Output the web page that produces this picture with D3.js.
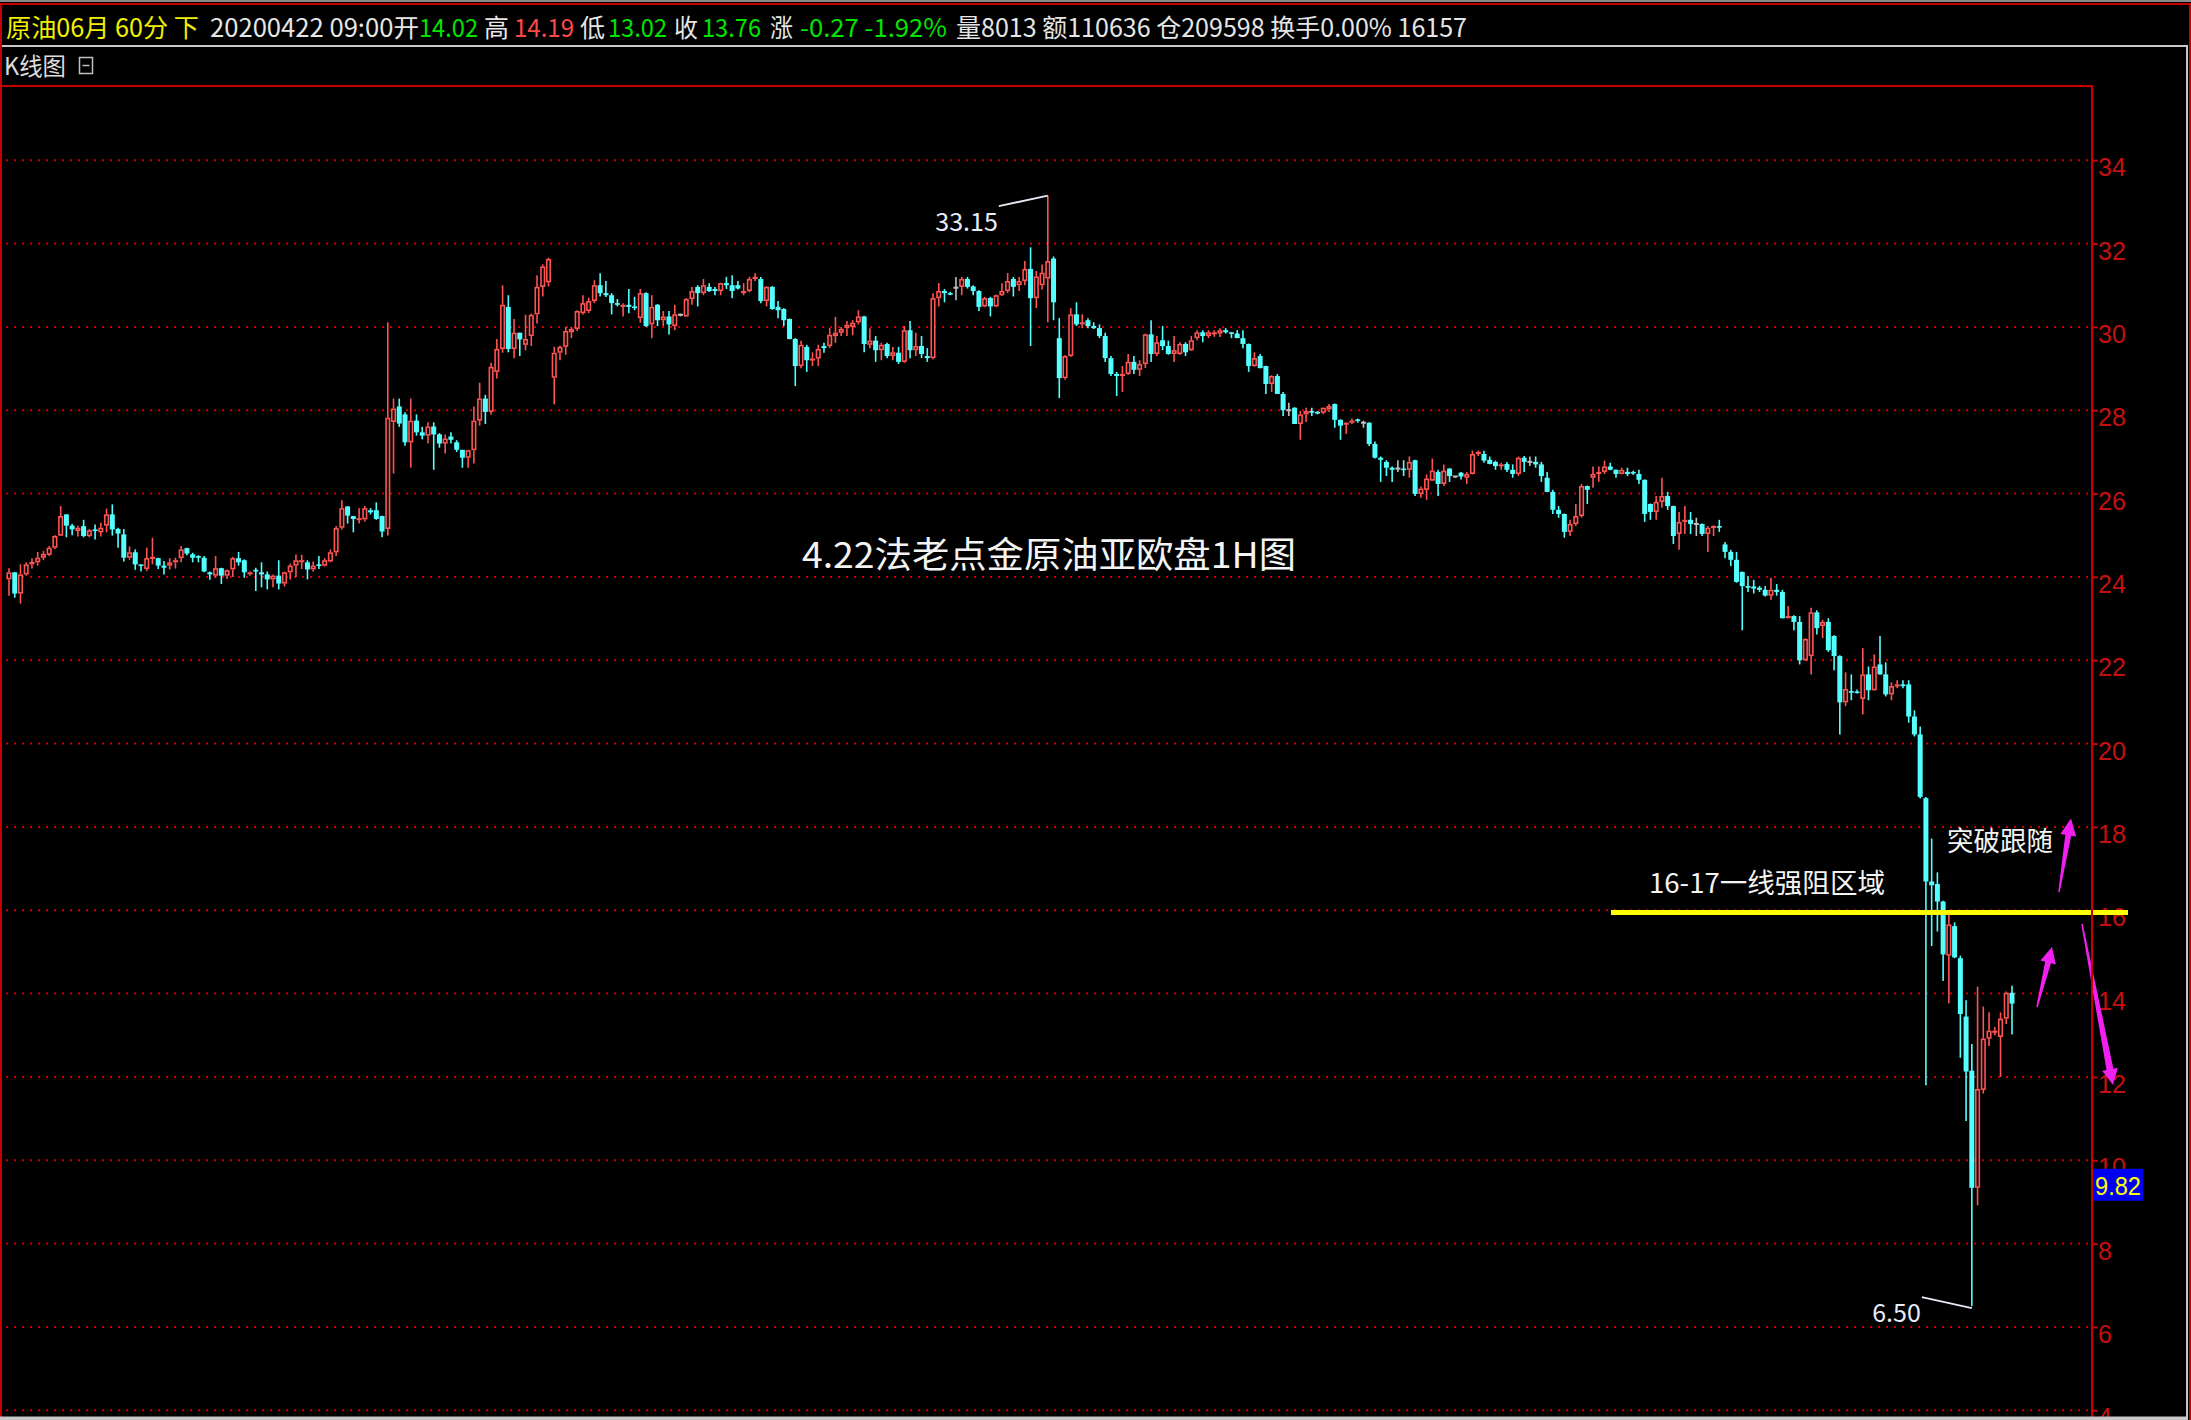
<!DOCTYPE html>
<html><head><meta charset="utf-8">
<script src="https://cdn.jsdelivr.net/npm/d3@7"></script>
<style>html,body{margin:0;padding:0;background:#000;overflow:hidden}</style>
</head><body>
<svg id="c" width="2191" height="1420" xmlns="http://www.w3.org/2000/svg"></svg>
<script>
// ---------------- DATA (60-minute candles) ----------------
const opens = [
23.94,24.11,23.6,24.06,24.3,24.35,24.46,24.53,24.7,24.99,
25.5,25.23,25.1,25.22,24.98,25.14,25.07,25.23,25.5,25.15,
25.02,24.46,24.59,24.3,24.19,24.45,24.45,24.27,24.27,24.35,
24.45,24.69,24.54,24.5,24.46,24.11,24.03,24.21,24.03,24.18,
24.45,24.4,24.06,24.17,24.11,24.06,23.94,24.03,23.84,24.11,
24.27,24.35,24.35,24.18,24.3,24.27,24.37,24.59,25.18,25.69,
25.46,25.38,25.38,25.6,25.6,25.46,25.15,
27.72,28.09,27.9,27.23,27.75,27.47,27.39,27.61,27.42,27.2,
27.37,27.23,27.05,26.86,27.04,27.75,28.28,27.96,28.92,29.47,
30.48,29.47,29.86,29.57,29.78,30.3,30.96,31.07,28.78,29.38,
29.52,29.87,29.95,30.33,30.38,30.62,31.0,30.81,30.76,30.57,
30.48,30.53,30.49,30.21,30.81,30.06,30.53,30.16,30.25,30.02,
30.29,30.25,30.67,30.96,30.81,30.96,30.91,30.86,31.05,31.0,
31.0,30.81,30.86,31.15,31.15,30.62,30.96,30.48,30.43,30.19,
29.71,29.06,29.52,29.2,29.24,29.54,29.54,29.78,29.86,
29.97,30.0,30.11,30.25,29.57,29.67,29.44,29.59,29.3,29.38,
29.16,29.92,29.44,29.54,29.3,29.25,30.69,30.86,30.81,30.94,
30.96,31.15,30.97,30.86,30.49,30.69,30.49,30.76,30.86,31.15,
31.0,31.1,31.39,30.69,31.0,31.16,31.64,29.73,28.77,29.3,
30.3,30.06,30.16,30.02,29.97,29.78,29.25,28.87,28.82,28.87,
29.16,28.97,29.11,29.82,29.35,29.68,29.54,29.35,29.35,29.59,
29.44,29.73,29.87,29.78,29.84,29.84,29.92,29.87,29.84,29.73,
29.59,29.06,29.3,29.06,28.63,28.82,28.39,28.0,28.06,27.67,
27.9,27.98,27.96,27.94,28.02,28.15,27.77,
27.66,27.7,27.78,27.7,27.7,27.19,26.86,26.76,26.62,26.6,
26.6,26.57,26.8,25.99,26.09,26.31,26.52,26.23,26.6,26.41,
26.5,26.38,26.47,26.95,26.95,26.81,26.76,26.66,26.71,26.57,
26.47,26.86,26.76,26.76,26.7,26.38,26.04,25.61,25.51,25.08,
25.27,25.46,26.18,26.38,26.47,26.52,26.65,26.57,26.47,26.52,
26.52,26.47,26.33,25.75,25.56,25.8,25.94,25.7,25.03,25.32,
25.37,25.27,25.27,25.03,25.18,25.22,
24.78,24.6,24.41,24.12,23.78,23.77,23.74,23.69,23.55,23.69,
23.64,23.01,23.06,22.92,22.0,22.1,23.15,22.82,22.92,22.58,
22.1,20.99,21.26,21.25,21.07,21.66,21.28,21.9,21.66,21.18,
21.38,21.42,21.42,20.65,20.22,
18.69,16.69,16.63,16.21,14.91,15.62,14.85,13.45,12.15,9.34,11.69,12.92,13.09,12.96,13.4,14.02
];
const highs = [
24.21,24.11,24.3,24.35,24.45,24.6,24.62,24.74,25.0,25.7,
25.5,25.27,25.23,25.37,25.15,25.26,25.3,25.64,25.74,25.18,
25.15,24.73,24.66,24.3,24.7,24.94,24.46,24.38,24.45,24.46,
24.74,24.7,24.58,24.52,24.5,24.13,24.5,24.22,24.18,24.48,
24.6,24.42,24.13,24.22,24.35,24.13,24.06,24.4,24.13,24.32,
24.54,24.53,24.4,24.37,24.5,24.45,24.66,25.22,25.84,25.7,
25.46,25.65,25.7,25.65,25.79,25.47,30.11,
28.28,28.28,27.95,28.28,27.9,27.6,27.71,27.71,27.45,27.42,
27.47,27.28,27.05,27.05,28.09,28.66,28.37,29.14,29.71,31.0,
30.76,30.19,29.86,30.29,30.32,31.24,31.5,31.66,29.52,29.55,
30.0,30.0,30.4,30.76,30.7,31.12,31.29,31.1,30.81,30.67,
30.57,30.91,30.72,30.91,30.83,30.76,30.55,30.38,30.38,30.53,
30.32,30.69,30.96,31.0,31.15,31.05,30.96,31.06,31.2,31.24,
31.1,31.05,31.2,31.29,31.2,30.98,30.98,30.62,30.45,30.2,
29.73,29.67,29.57,29.39,29.57,29.62,29.97,30.24,30.0,
30.14,30.16,30.4,30.27,29.97,29.78,29.62,29.62,29.52,29.52,
30.02,30.14,29.86,29.78,29.49,30.81,31.05,30.91,30.84,31.2,
31.2,31.2,31.0,30.88,30.72,30.72,30.78,31.05,31.29,31.2,
31.2,31.58,31.91,31.34,31.5,33.15,31.69,30.21,29.32,30.45,
30.59,30.3,30.21,30.11,30.06,29.86,29.3,28.92,29.06,29.35,
29.3,29.2,29.84,30.16,29.78,30.02,29.67,29.78,29.63,29.63,
29.78,29.92,29.92,29.92,29.92,29.97,29.97,29.88,29.92,29.92,
29.6,29.39,29.35,29.07,28.84,28.87,28.44,28.18,28.07,27.98,
28.06,28.06,27.98,28.06,28.15,28.16,27.78,
27.71,27.8,27.8,27.75,27.71,27.25,26.89,26.8,26.65,26.8,
26.8,26.89,26.81,26.17,26.46,26.84,26.57,26.7,26.61,26.42,
26.52,26.52,27.03,27.03,27.03,26.89,26.79,26.74,26.76,26.7,
26.89,26.9,26.89,26.89,26.76,26.52,26.09,25.7,25.52,25.37,
25.75,26.23,26.19,26.65,26.65,26.79,26.74,26.58,26.62,26.62,
26.55,26.57,26.34,25.76,25.94,26.38,26.04,25.71,25.56,25.7,
25.56,25.42,25.28,25.22,25.24,25.37,
24.84,24.65,24.6,24.13,24.02,23.93,23.78,23.78,23.98,23.83,
23.69,23.3,23.08,23.06,22.53,23.26,23.2,22.97,23.01,22.6,
22.12,21.71,21.66,21.3,22.29,21.85,22.14,22.58,21.95,21.47,
21.52,21.52,21.52,20.8,20.41,
18.72,17.72,16.91,16.23,16.0,15.71,14.91,13.84,12.79,14.17,13.69,13.55,13.2,13.55,14.05,14.19
];
const lows = [
23.55,23.5,23.36,24.03,24.2,24.27,24.4,24.5,24.67,24.98,
24.95,25.0,24.97,24.95,24.95,24.9,24.97,25.07,24.99,24.7,
24.37,24.41,24.17,24.13,24.14,24.3,24.19,24.06,24.18,24.2,
24.35,24.52,24.35,24.35,24.11,23.93,23.98,23.83,23.95,24.0,
24.27,23.98,24.03,23.66,23.75,23.7,23.75,23.7,23.77,23.94,
24.0,24.19,23.94,24.13,24.19,24.25,24.35,24.5,25.14,25.28,
25.07,25.28,25.33,25.5,25.37,24.95,24.99,
26.48,27.6,27.15,26.62,27.39,27.3,27.2,26.57,27.1,26.96,
27.2,27.0,26.62,26.62,26.72,27.63,27.67,27.9,28.76,29.38,
29.39,29.25,29.3,29.44,29.54,30.08,30.73,30.97,28.14,29.2,
29.33,29.73,29.9,30.29,30.33,30.57,30.73,30.72,30.3,30.49,
30.25,30.33,30.4,30.1,30.0,29.73,30.02,30.02,29.82,29.92,
30.25,30.24,30.53,30.49,30.76,30.84,30.76,30.76,30.91,30.69,
30.9,30.76,30.83,31.1,30.57,30.49,30.41,30.21,30.02,29.7,
28.58,29.01,28.92,29.06,29.06,29.38,29.49,29.62,29.78,
29.78,29.8,30.06,29.39,29.49,29.16,29.2,29.25,29.2,29.11,
29.14,29.25,29.3,29.25,29.16,29.22,30.49,30.59,30.76,30.64,
30.76,30.92,30.76,30.38,30.47,30.25,30.47,30.74,30.81,30.73,
30.86,31.0,29.54,30.45,30.9,30.11,30.16,28.29,28.73,29.28,
30.02,29.97,29.97,29.95,29.73,29.16,28.82,28.34,28.44,28.85,
28.87,28.82,29.01,29.16,29.3,29.44,29.33,29.16,29.33,29.3,
29.42,29.68,29.63,29.73,29.76,29.76,29.84,29.73,29.73,29.49,
28.92,29.04,29.01,28.39,28.44,28.39,27.86,27.86,27.67,27.29,
27.72,27.86,27.9,27.9,27.96,27.58,27.29,
27.43,27.67,27.7,27.58,27.14,26.84,26.28,26.42,26.28,26.52,
26.42,26.38,25.94,25.9,25.85,26.3,25.94,26.18,26.28,26.38,
26.34,26.23,26.46,26.9,26.74,26.7,26.57,26.57,26.52,26.38,
26.42,26.52,26.66,26.62,26.28,26.03,25.51,25.42,24.94,24.98,
25.22,25.42,25.75,26.14,26.28,26.47,26.56,26.38,26.46,26.42,
26.45,26.23,25.32,25.37,25.37,25.66,25.61,24.79,24.65,25.03,
25.03,24.98,24.98,24.6,24.98,25.08,
24.45,24.26,23.86,22.72,23.64,23.6,23.64,23.53,23.45,23.55,
23.0,23.0,22.72,21.9,21.98,21.66,22.62,22.53,22.2,21.76,
20.22,20.9,21.04,21.2,20.7,21.04,21.27,21.65,21.13,21.04,
21.33,21.33,20.5,20.17,18.68,
11.8,15.14,15.49,14.3,13.77,14.85,12.46,10.94,6.5,8.92,11.6,12.74,13.0,12.0,13.27,13.02
];
const closes = [
24.11,23.6,24.06,24.3,24.36,24.46,24.55,24.7,24.98,25.46,
25.23,25.14,25.18,24.98,25.12,25.1,25.18,25.5,25.14,25.04,
24.46,24.59,24.3,24.27,24.45,24.48,24.27,24.22,24.35,24.4,
24.66,24.56,24.46,24.46,24.13,24.06,24.21,24.03,24.16,24.45,
24.35,24.11,24.11,24.13,24.06,23.94,24.03,23.84,24.11,24.27,
24.4,24.4,24.18,24.27,24.27,24.4,24.59,25.17,25.65,25.47,
25.39,25.41,25.65,25.55,25.39,25.09,27.82,
28.04,27.68,27.23,27.75,27.47,27.39,27.61,27.42,27.2,27.32,
27.29,27.05,26.86,27.04,27.75,28.28,27.96,29.04,29.47,30.53,
29.47,29.86,29.7,29.71,30.29,30.96,31.45,31.63,29.38,29.52,
29.9,29.95,30.38,30.57,30.62,31.0,30.81,30.76,30.57,30.53,
30.53,30.48,30.45,30.81,30.02,30.48,30.16,30.25,30.06,30.3,
30.29,30.67,30.86,30.81,31.0,30.86,30.86,31.05,31.0,30.86,
30.92,30.86,31.15,31.2,30.62,30.96,30.43,30.4,30.16,29.71,
29.06,29.57,29.2,29.24,29.47,29.49,29.81,29.86,29.95,
30.05,30.1,30.25,29.59,29.67,29.44,29.57,29.3,29.39,29.16,
29.92,29.44,29.54,29.35,29.25,30.69,30.86,30.81,30.78,30.94,
31.15,30.96,30.86,30.48,30.69,30.49,30.76,30.86,31.1,30.96,
31.1,31.39,30.69,31.21,31.3,31.58,30.59,28.77,29.3,30.3,
30.06,30.11,30.02,29.97,29.78,29.25,28.87,28.82,28.87,29.16,
28.97,29.11,29.82,29.35,29.63,29.54,29.35,29.44,29.59,29.39,
29.68,29.87,29.78,29.87,29.87,29.92,29.87,29.84,29.73,29.59,
29.06,29.25,29.01,28.63,28.82,28.39,28.0,28.0,27.67,27.9,
27.98,27.94,27.92,28.06,28.1,27.77,27.63,
27.7,27.75,27.74,27.7,27.19,26.86,26.81,26.62,26.57,26.6,
26.57,26.76,25.99,26.12,26.36,26.55,26.23,26.55,26.42,26.41,
26.41,26.47,26.95,27.0,26.79,26.71,26.66,26.7,26.57,26.47,
26.86,26.76,26.76,26.7,26.42,26.04,25.61,25.51,25.08,25.27,
25.46,26.18,26.09,26.47,26.52,26.65,26.57,26.47,26.57,26.47,
26.48,26.33,25.51,25.56,25.8,25.94,25.7,24.98,25.32,25.37,
25.27,25.27,25.03,25.18,25.22,25.18,
24.6,24.41,23.88,23.78,23.74,23.72,23.69,23.55,23.69,23.64,
23.01,23.06,22.92,22.0,22.51,23.15,22.77,22.92,22.24,22.1,
20.99,21.31,21.23,21.22,21.66,21.28,21.85,21.66,21.18,21.38,
21.42,21.38,20.65,20.22,18.72,
16.69,16.6,16.21,14.94,15.66,14.87,13.51,12.13,9.34,11.71,12.92,13.11,13.11,13.4,14.02,13.76
];
const priceTicks = [4,6,8,10,12,14,16,18,20,22,24,26,28,30,32,34];
const highLabel = 33.15;
const lowLabel = 6.50;
const lastPriceTag = 9.82;
const resistanceLevel = 16;
const titleText = "4.22法老点金原油亚欧盘1H图";
const zoneText = "16-17一线强阻区域";
const followText = "突破跟随";

// ---------------- CHART ----------------
const W = 2191, H = 1420;
const svg = d3.select("#c");
svg.append("rect").attr("width", W).attr("height", H).attr("fill", "#000");

const n = opens.length;
const x = d3.scalePoint().domain(d3.range(n)).range([9, 2012]);
const y = d3.scaleLinear().domain([4, 34]).range([1410.3, 160.2]);

const CJK = "'Noto Sans CJK SC','Noto Sans',sans-serif";
const LAT = "'Liberation Sans',Arial,sans-serif";

// grid
svg.append("g").selectAll("line").data(priceTicks).join("line")
  .attr("x1", 6).attr("x2", 2092)
  .attr("y1", d => y(d)).attr("y2", d => y(d))
  .attr("stroke", "#c80000").attr("stroke-width", 2).attr("stroke-dasharray", "2,6");

// candles
const candles = d3.range(n).map(i => ({ i, o: opens[i], h: highs[i], l: lows[i], c: closes[i] }));
const UP = "#ff5454", DN = "#54ffff", EQ = "#c0c0c0";
const bw = 5;
const cg = svg.append("g");
candles.forEach(d => {
  const cx = x(d.i);
  const col = d.c > d.o ? UP : (d.c < d.o ? DN : EQ);
  if (d.c > d.o) {
    cg.append("line").attr("x1", cx).attr("x2", cx).attr("y1", y(d.h)).attr("y2", y(d.c))
      .attr("stroke", col).attr("stroke-width", 1.6);
    cg.append("line").attr("x1", cx).attr("x2", cx).attr("y1", y(d.o)).attr("y2", y(d.l))
      .attr("stroke", col).attr("stroke-width", 1.6);
    const top = y(d.c), bot = y(d.o);
    cg.append("rect").attr("x", cx - bw / 2 + 0.75).attr("y", top + 0.75)
      .attr("width", bw - 1.5).attr("height", Math.max(bot - top - 1.5, 0.5))
      .attr("fill", "#000").attr("stroke", col).attr("stroke-width", 1.6);
  } else if (d.c < d.o) {
    cg.append("line").attr("x1", cx).attr("x2", cx).attr("y1", y(d.h)).attr("y2", y(d.l))
      .attr("stroke", col).attr("stroke-width", 1.6);
    const top = y(d.o), bot = y(d.c);
    cg.append("rect").attr("x", cx - bw / 2).attr("y", top)
      .attr("width", bw).attr("height", Math.max(bot - top, 1.6)).attr("fill", col);
  } else {
    cg.append("line").attr("x1", cx).attr("x2", cx).attr("y1", y(d.h)).attr("y2", y(d.l))
      .attr("stroke", col).attr("stroke-width", 1.6);
    cg.append("line").attr("x1", cx - bw / 2).attr("x2", cx + bw / 2).attr("y1", y(d.o)).attr("y2", y(d.o))
      .attr("stroke", col).attr("stroke-width", 2);
  }
});

// extreme labels
const hiIdx = d3.maxIndex(highs), loIdx = d3.minIndex(lows);
const hx = x(hiIdx), hy = y(highs[hiIdx]);
svg.append("line").attr("x1", hx - 49).attr("y1", hy + 10.5).attr("x2", hx).attr("y2", hy)
  .attr("stroke", "#e8e8f4").attr("stroke-width", 2);
svg.append("text").attr("x", hx - 50).attr("y", hy + 35).attr("text-anchor", "end")
  .attr("font-family", CJK).attr("font-size", 25).attr("fill", "#e8ecf8")
  .text(highLabel.toFixed(2));
const lx = x(loIdx), ly = y(lows[loIdx]);
svg.append("line").attr("x1", lx - 50).attr("y1", ly - 9).attr("x2", lx).attr("y2", ly + 2)
  .attr("stroke", "#e8e8f4").attr("stroke-width", 2);
svg.append("text").attr("x", lx - 51).attr("y", ly + 16).attr("text-anchor", "end")
  .attr("font-family", CJK).attr("font-size", 25).attr("fill", "#e8ecf8")
  .text(lowLabel.toFixed(2));

// title annotation
svg.append("text").attr("x", 802).attr("y", 568).attr("font-family", CJK).attr("font-size", 36)
  .attr("fill", "#f4f4f4").attr("textLength", 494).attr("lengthAdjust", "spacingAndGlyphs").text(titleText);
svg.append("text").attr("x", 1649).attr("y", 893).attr("font-family", CJK).attr("font-size", 27)
  .attr("fill", "#f4f4f4").attr("textLength", 236).attr("lengthAdjust", "spacingAndGlyphs").text(zoneText);
svg.append("text").attr("x", 1947).attr("y", 851).attr("font-family", CJK).attr("font-size", 27)
  .attr("fill", "#f4f4f4").attr("textLength", 106).attr("lengthAdjust", "spacingAndGlyphs").text(followText);

// y axis (right)
const axis = d3.axisRight(y).tickValues(priceTicks).tickSize(6).tickPadding(0).tickFormat(d3.format("d"));
const ag = svg.append("g").attr("transform", "translate(2092,0)").call(axis);
ag.select(".domain").remove();
ag.selectAll(".tick line").attr("stroke", "#c80000").attr("stroke-width", 2);
ag.selectAll(".tick text").attr("x", 6).attr("dy", null).attr("y", 15.5)
  .attr("fill", "#c41010").attr("font-family", LAT).attr("font-size", 25);

// resistance line
svg.append("line").attr("x1", 1611).attr("x2", 2128)
  .attr("y1", y(resistanceLevel) + 2.2).attr("y2", y(resistanceLevel) + 2.2)
  .attr("stroke", "#ffff00").attr("stroke-width", 5);

// arrows
function arrow(tx, ty, px, py, w0, w1, hw, hl) {
  const dx = px - tx, dy = py - ty, L = Math.hypot(dx, dy);
  const ux = dx / L, uy = dy / L, nx = -uy, ny = ux;
  const bx = px - ux * hl, by = py - uy * hl;
  const pts = [
    [tx + nx * w0 / 2, ty + ny * w0 / 2],
    [bx + nx * w1 / 2, by + ny * w1 / 2],
    [bx + nx * hw / 2, by + ny * hw / 2],
    [px, py],
    [bx - nx * hw / 2, by - ny * hw / 2],
    [bx - nx * w1 / 2, by - ny * w1 / 2],
    [tx - nx * w0 / 2, ty - ny * w0 / 2]
  ];
  svg.append("polygon").attr("points", pts.map(p => p.join(",")).join(" ")).attr("fill", "#f020f0");
}
arrow(2059, 892, 2071, 818.5, 1.5, 6, 16, 17);
arrow(2037, 1007, 2052, 947, 1.5, 6, 16, 16);
arrow(2082, 924, 2113, 1085, 1.5, 7, 16, 16);

// last price tag
const tagY = y(lastPriceTag) + 1;
svg.append("rect").attr("x", 2093).attr("y", tagY).attr("width", 50).attr("height", 32).attr("fill", "#0000f0");
svg.append("text").attr("x", 2095).attr("y", tagY + 26).attr("font-family", LAT).attr("font-size", 25)
  .attr("fill", "#ffff00").attr("textLength", 46).attr("lengthAdjust", "spacingAndGlyphs").text(lastPriceTag.toFixed(2));

// frame
const fr = svg.append("g");
fr.append("rect").attr("x", 0).attr("y", 0).attr("width", W).attr("height", 2).attr("fill", "#8a8a8a");
fr.append("rect").attr("x", 0).attr("y", 3).attr("width", W).attr("height", 2).attr("fill", "#c80000");
fr.append("rect").attr("x", 0).attr("y", 45).attr("width", 2187).attr("height", 2).attr("fill", "#c8c8c8");
fr.append("rect").attr("x", 0).attr("y", 85).attr("width", 2093).attr("height", 2).attr("fill", "#c80000");
fr.append("rect").attr("x", 2091).attr("y", 85).attr("width", 2).attr("height", 1332).attr("fill", "#c80000");
fr.append("rect").attr("x", 0).attr("y", 3).attr("width", 2).attr("height", 1417).attr("fill", "#c80000");
fr.append("rect").attr("x", 2186).attr("y", 45).attr("width", 2).attr("height", 1375).attr("fill", "#c8c8c8");
fr.append("rect").attr("x", 2189).attr("y", 3).attr("width", 2).attr("height", 1417).attr("fill", "#c80000");
fr.append("rect").attr("x", 0).attr("y", 1416.5).attr("width", 2187).attr("height", 3.5).attr("fill", "#c8c8c8");

// header
const last = n - 1;
const headerSegs = [
  ["原油06月 60分 下", "#f0f000", 6, 199],
  ["20200422 09:00开", "#e6e6e6", 210, 419],
  [opens[last].toFixed(2), "#00e600", 419, 478],
  ["高", "#e6e6e6", 484, 509],
  [highs[last].toFixed(2), "#ff4848", 514, 574],
  ["低", "#e6e6e6", 580, 605],
  [lows[last].toFixed(2), "#00e600", 608, 667],
  ["收", "#e6e6e6", 674, 698],
  [closes[last].toFixed(2), "#00e600", 702, 761],
  ["涨", "#e6e6e6", 770, 793],
  ["-0.27 -1.92%", "#00e600", 800, 947],
  ["量8013 额110636 仓209598 换手0.00% 16157", "#e6e6e6", 956, 1467]
];
svg.append("g").selectAll("text").data(headerSegs).join("text")
  .attr("x", d => d[2]).attr("y", 36.5)
  .attr("font-family", CJK).attr("font-size", 25).attr("fill", d => d[1])
  .attr("textLength", d => d[3] - d[2]).attr("lengthAdjust", "spacingAndGlyphs")
  .text(d => d[0]);

svg.append("text").attr("x", 4).attr("y", 75).attr("font-family", CJK).attr("font-size", 24)
  .attr("fill", "#dcdcdc").attr("textLength", 62).attr("lengthAdjust", "spacingAndGlyphs").text("K线图");
svg.append("rect").attr("x", 79.5).attr("y", 57.5).attr("width", 13).attr("height", 16)
  .attr("fill", "none").attr("stroke", "#c0c0c0").attr("stroke-width", 1.5);
svg.append("line").attr("x1", 82.5).attr("x2", 89.5).attr("y1", 65.5).attr("y2", 65.5)
  .attr("stroke", "#c0c0c0").attr("stroke-width", 1.5);
</script>
</body></html>
